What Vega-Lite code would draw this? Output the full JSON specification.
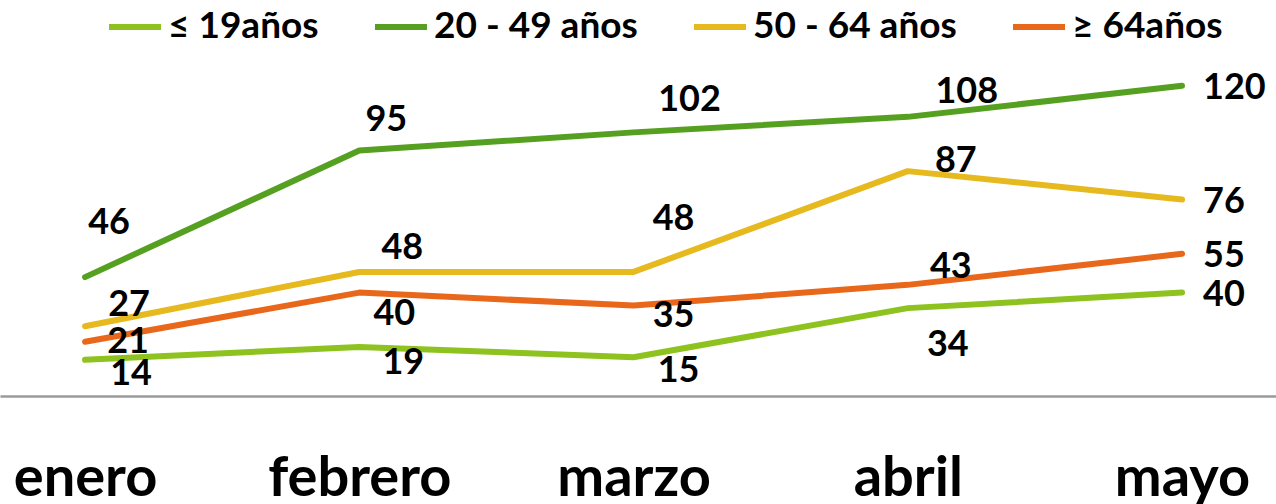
{
  "$schema": "https://vega.github.io/schema/vega-lite/v6.json",
  "width": 1276,
  "height": 336,
  "padding": {"left": 0, "top": 60, "right": 0, "bottom": 108},
  "autosize": {"type": "none"},
  "background": "white",
  "config": {"view": {"stroke": null}, "font": "Lato"},
  "data": {"values": [
    {"mes": "enero", "serie": "≤ 19años", "valor": 14},
    {"mes": "febrero", "serie": "≤ 19años", "valor": 19},
    {"mes": "marzo", "serie": "≤ 19años", "valor": 15},
    {"mes": "abril", "serie": "≤ 19años", "valor": 34},
    {"mes": "mayo", "serie": "≤ 19años", "valor": 40},
    {"mes": "enero", "serie": "20 - 49 años", "valor": 46},
    {"mes": "febrero", "serie": "20 - 49 años", "valor": 95},
    {"mes": "marzo", "serie": "20 - 49 años", "valor": 102},
    {"mes": "abril", "serie": "20 - 49 años", "valor": 108},
    {"mes": "mayo", "serie": "20 - 49 años", "valor": 120},
    {"mes": "enero", "serie": "50 - 64 años", "valor": 27},
    {"mes": "febrero", "serie": "50 - 64 años", "valor": 48},
    {"mes": "marzo", "serie": "50 - 64 años", "valor": 48},
    {"mes": "abril", "serie": "50 - 64 años", "valor": 87},
    {"mes": "mayo", "serie": "50 - 64 años", "valor": 76},
    {"mes": "enero", "serie": "≥ 64años", "valor": 21},
    {"mes": "febrero", "serie": "≥ 64años", "valor": 40},
    {"mes": "marzo", "serie": "≥ 64años", "valor": 35},
    {"mes": "abril", "serie": "≥ 64años", "valor": 43},
    {"mes": "mayo", "serie": "≥ 64años", "valor": 55}
  ]},
  "encoding": {
    "x": {
      "field": "mes", "type": "ordinal",
      "sort": ["enero", "febrero", "marzo", "abril", "mayo"],
      "scale": {"type": "point", "padding": 0.3264, "align": 0.475},
      "axis": {
        "title": null, "labelAngle": 0, "ticks": false, "tickSize": 0, "grid": false,
        "domainColor": "#9a9a9a", "domainWidth": 2.5,
        "labelFont": "Lato", "labelFontSize": 56, "labelFontWeight": "bold", "labelColor": "#000000",
        "labelBaseline": "alphabetic", "labelPadding": 99, "labelLimit": 0, "labelOverlap": false
      }
    },
    "y": {
      "field": "valor", "type": "quantitative",
      "scale": {"domain": [0, 130]},
      "axis": null
    }
  },
  "layer": [
    {
      "mark": {"type": "line", "strokeWidth": 6, "strokeCap": "round", "strokeJoin": "round"},
      "encoding": {
        "color": {
          "field": "serie", "type": "nominal",
          "scale": {
            "domain": ["≤ 19años", "20 - 49 años", "50 - 64 años", "≥ 64años"],
            "range": ["#8DC21F", "#56A021", "#E6B91E", "#E8671A"]
          },
          "legend": {
            "title": null, "orient": "none", "direction": "horizontal",
            "legendX": 106, "legendY": -62,
            "symbolType": "stroke", "symbolSize": 2704, "symbolStrokeWidth": 6,
            "labelFont": "Lato", "labelFontSize": 37, "labelFontWeight": "bold", "labelColor": "#000000",
            "labelOffset": 4, "columnPadding": 44, "labelLimit": 400
          }
        }
      }
    },
    {
      "encoding": {"text": {"field": "valor", "type": "quantitative"}},
      "layer": [
        {"transform": [{"filter": "datum.mes === 'mayo'"}], "mark": {"type": "text", "font": "Lato", "fontSize": 36, "fontWeight": "bold", "color": "#000000", "align": "left", "baseline": "middle", "dx": 21, "dy": 2}},
        {"transform": [{"filter": "datum.mes === 'enero' && datum.serie === '20 - 49 años'"}], "mark": {"type": "text", "font": "Lato", "fontSize": 36, "fontWeight": "bold", "color": "#000000", "baseline": "middle", "dx": 24, "dy": -54}},
        {"transform": [{"filter": "datum.mes === 'enero' && datum.serie === '50 - 64 años'"}], "mark": {"type": "text", "font": "Lato", "fontSize": 36, "fontWeight": "bold", "color": "#000000", "baseline": "middle", "dx": 44, "dy": -21}},
        {"transform": [{"filter": "datum.mes === 'enero' && datum.serie === '≥ 64años'"}], "mark": {"type": "text", "font": "Lato", "fontSize": 36, "fontWeight": "bold", "color": "#000000", "baseline": "middle", "dx": 43, "dy": 0}},
        {"transform": [{"filter": "datum.mes === 'enero' && datum.serie === '≤ 19años'"}], "mark": {"type": "text", "font": "Lato", "fontSize": 36, "fontWeight": "bold", "color": "#000000", "baseline": "middle", "dx": 46, "dy": 14}},
        {"transform": [{"filter": "datum.mes === 'febrero' && datum.serie === '20 - 49 años'"}], "mark": {"type": "text", "font": "Lato", "fontSize": 36, "fontWeight": "bold", "color": "#000000", "baseline": "middle", "dx": 27, "dy": -30}},
        {"transform": [{"filter": "datum.mes === 'febrero' && datum.serie === '50 - 64 años'"}], "mark": {"type": "text", "font": "Lato", "fontSize": 36, "fontWeight": "bold", "color": "#000000", "baseline": "middle", "dx": 43, "dy": -24}},
        {"transform": [{"filter": "datum.mes === 'febrero' && datum.serie === '≥ 64años'"}], "mark": {"type": "text", "font": "Lato", "fontSize": 36, "fontWeight": "bold", "color": "#000000", "baseline": "middle", "dx": 35, "dy": 21}},
        {"transform": [{"filter": "datum.mes === 'febrero' && datum.serie === '≤ 19años'"}], "mark": {"type": "text", "font": "Lato", "fontSize": 36, "fontWeight": "bold", "color": "#000000", "baseline": "middle", "dx": 44, "dy": 16}},
        {"transform": [{"filter": "datum.mes === 'marzo' && datum.serie === '20 - 49 años'"}], "mark": {"type": "text", "font": "Lato", "fontSize": 36, "fontWeight": "bold", "color": "#000000", "baseline": "middle", "dx": 56, "dy": -32}},
        {"transform": [{"filter": "datum.mes === 'marzo' && datum.serie === '50 - 64 años'"}], "mark": {"type": "text", "font": "Lato", "fontSize": 36, "fontWeight": "bold", "color": "#000000", "baseline": "middle", "dx": 40, "dy": -53}},
        {"transform": [{"filter": "datum.mes === 'marzo' && datum.serie === '≥ 64años'"}], "mark": {"type": "text", "font": "Lato", "fontSize": 36, "fontWeight": "bold", "color": "#000000", "baseline": "middle", "dx": 40, "dy": 10}},
        {"transform": [{"filter": "datum.mes === 'marzo' && datum.serie === '≤ 19años'"}], "mark": {"type": "text", "font": "Lato", "fontSize": 36, "fontWeight": "bold", "color": "#000000", "baseline": "middle", "dx": 45, "dy": 14}},
        {"transform": [{"filter": "datum.mes === 'abril' && datum.serie === '20 - 49 años'"}], "mark": {"type": "text", "font": "Lato", "fontSize": 36, "fontWeight": "bold", "color": "#000000", "baseline": "middle", "dx": 59, "dy": -25}},
        {"transform": [{"filter": "datum.mes === 'abril' && datum.serie === '50 - 64 años'"}], "mark": {"type": "text", "font": "Lato", "fontSize": 36, "fontWeight": "bold", "color": "#000000", "baseline": "middle", "dx": 48, "dy": -10}},
        {"transform": [{"filter": "datum.mes === 'abril' && datum.serie === '≥ 64años'"}], "mark": {"type": "text", "font": "Lato", "fontSize": 36, "fontWeight": "bold", "color": "#000000", "baseline": "middle", "dx": 43, "dy": -18}},
        {"transform": [{"filter": "datum.mes === 'abril' && datum.serie === '≤ 19años'"}], "mark": {"type": "text", "font": "Lato", "fontSize": 36, "fontWeight": "bold", "color": "#000000", "baseline": "middle", "dx": 40, "dy": 37}}
      ]
    }
  ]
}
